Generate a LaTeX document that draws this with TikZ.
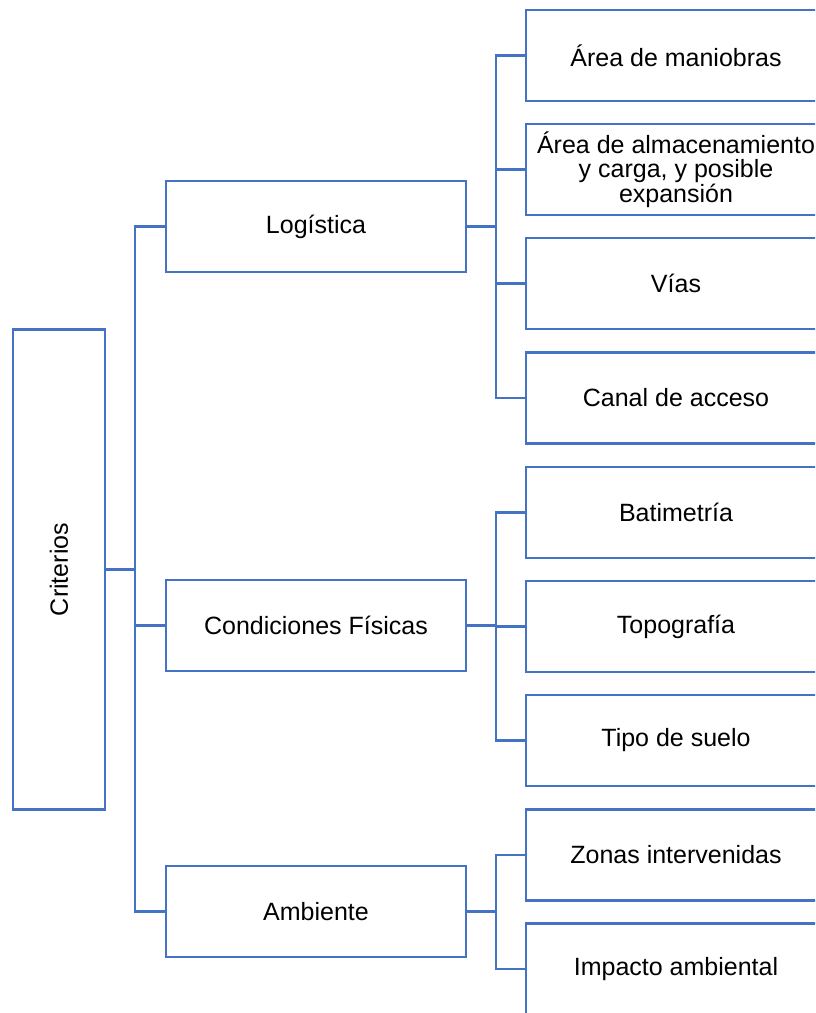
\documentclass[tikz,border=0pt]{standalone}
\usepackage{fontspec}
\setmainfont{Liberation Sans}
\definecolor{boxblue}{HTML}{4472C4}

\begin{document}
\begin{tikzpicture}[
    x = 1pt,
    y = -1pt,
    box/.style = {
      shape = rectangle,
      draw = boxblue,
      line width = 2.4pt,
      minimum width = 300pt,
      minimum height = 91pt,
      inner sep = 0pt,
      align = center,
      font = \fontsize{25}{24.5}\selectfont
    },
    link/.style = {
      draw = boxblue,
      line width = 2.2pt
    }
  ]
    \useasboundingbox (0, 0) rectangle (815, 1013);
    \clip (0, 0) rectangle (815, 1013);

    \node[box, minimum width = 92pt, minimum height = 480pt] (crit) at (59, 569.5) {};
    \node[rotate = 90, font = \fontsize{25}{24.5}\selectfont] (critlabel) at (crit.center) {Criterios};

    \node[box] (log) at (316, 226.5) {Logística};
    \node[box] (fis) at (316, 625.5) {Condiciones Físicas};
    \node[box] (amb) at (316, 911.5) {Ambiente};

    \node[box] (l1) at (676, 55.5) {Área de maniobras};
    \node[box] (l2) at (676, 169.5) {Área de almacenamiento\\y carga, y posible\\expansión};
    \node[box] (l3) at (676, 283.5) {Vías};
    \node[box] (l4) at (676, 398) {Canal de acceso};

    \node[box] (f1) at (676, 512.5) {Batimetría};
    \node[box] (f2) at (676, 626.5) {Topografía};
    \node[box] (f3) at (676, 740.5) {Tipo de suelo};

    \node[box] (a1) at (676, 855) {Zonas intervenidas};
    \node[box] (a2) at (676, 969) {Impacto ambiental};

    \coordinate (busc) at (135, 569.5);
    \coordinate (busl) at (496, 226.5);
    \coordinate (busf) at (496, 625.5);
    \coordinate (busa) at (496, 911.5);

    \draw[link] (crit.east) -- (busc);
    \foreach \n in {log, fis, amb} {
      \draw[link] (\n.west) -| (busc);
    }

    \draw[link] (log.east) -- (busl);
    \foreach \idx in {1, 2, 3, 4} {
      \draw[link] (l\idx.west) -| (busl);
    }
    \draw[link] (fis.east) -- (busf);
    \foreach \idx in {1, 2, 3} {
      \draw[link] (f\idx.west) -| (busf);
    }
    \draw[link] (amb.east) -- (busa);
    \foreach \idx in {1, 2} {
      \draw[link] (a\idx.west) -| (busa);
    }
  \end{tikzpicture}
\end{document}
